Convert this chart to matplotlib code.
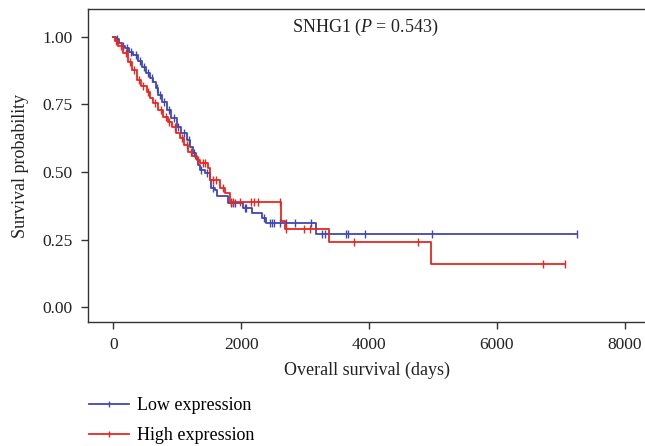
import numpy as np
import matplotlib
matplotlib.use("Agg")
import matplotlib.pyplot as plt
from matplotlib.lines import Line2D

plt.rcParams['font.family'] = ['Liberation Serif', 'DejaVu Serif']
plt.rcParams['mathtext.fontset'] = 'custom'
plt.rcParams['mathtext.rm'] = 'Liberation Serif'
plt.rcParams['mathtext.it'] = 'Liberation Serif:italic'

# --- survival steps ---
low_times = [0, 40, 90, 140, 183, 240, 313, 380, 443, 510, 573, 625, 665, 703, 760,
             834, 900, 990, 1060, 1147, 1200, 1250, 1290, 1328, 1355, 1433, 1511,
             1537, 1589, 1625, 1797, 2031, 2178, 2328, 2386, 3167, 7256]
low_surv = [1.0, 0.99, 0.975, 0.965, 0.957, 0.945, 0.932, 0.91, 0.889, 0.867, 0.846,
            0.834, 0.81, 0.785, 0.757, 0.729, 0.70, 0.667, 0.643, 0.618, 0.594, 0.569,
            0.548, 0.526, 0.507, 0.495, 0.47, 0.44, 0.433, 0.412, 0.384, 0.366, 0.347,
            0.329, 0.310, 0.271, 0.271]
low_censor = [60, 150, 220, 280, 350, 420, 480, 540, 600, 680, 730, 800, 870, 950,
              1020, 1100, 1180, 1270, 1380, 1460, 1560, 1850, 1875, 1900, 2058, 2084,
              2355, 2448, 2484, 2511, 2604, 2698, 2839, 3100, 3271, 3308, 3646, 3672,
              3944, 4990, 7256]

high_times = [0, 30, 80, 156, 234, 300, 366, 440, 522, 570, 625, 700, 781, 850, 912,
              980, 1042, 1110, 1172, 1240, 1303, 1355, 1484, 1511, 1677, 1755, 1825,
              2620, 2683, 3370, 4975, 7069]
high_surv = [1.0, 0.985, 0.965, 0.939, 0.908, 0.875, 0.84, 0.818, 0.797, 0.775, 0.754,
             0.73, 0.704, 0.685, 0.667, 0.645, 0.625, 0.60, 0.575, 0.558, 0.544, 0.532,
             0.514, 0.47, 0.44, 0.421, 0.388, 0.32, 0.288, 0.241, 0.159, 0.159]
high_censor = [50, 120, 200, 260, 330, 400, 470, 550, 650, 740, 820, 880, 960, 1070,
               1150, 1220, 1330, 1400, 1440, 1560, 1600, 1720, 1850, 1875, 1980, 2163,
               2198, 2266, 2604, 2698, 2980, 3073, 3761, 4766, 6730, 7069]

x_ticks = [0, 2000, 4000, 6000, 8000]
y_ticks = [0.0, 0.25, 0.5, 0.75, 1.0]

blue = '#4048b0'
red = '#e8271f'


def surv_at(times, surv, t):
    idx = np.searchsorted(times, t, side='right') - 1
    return np.asarray(surv)[idx]


fig = plt.figure(figsize=(6.45, 4.46), dpi=100)
ax = fig.add_axes([88 / 645, 1 - 322 / 446, 1 - 88 / 645, 313 / 446])

for times, surv, cens, col in [(low_times, low_surv, low_censor, blue),
                               (high_times, high_surv, high_censor, red)]:
    ax.step(times, surv, where='post', color=col, lw=1.3)
    ax.plot(cens, surv_at(times, surv, cens), ls='none', marker='|',
            ms=6, mew=1.0, color=col)

ax.set_xlim(-395, 8320)
ax.set_ylim(-0.054, 1.102)
ax.set_xticks(x_ticks)
ax.set_yticks(y_ticks)
ax.set_yticklabels([f'{v:.2f}' for v in y_ticks])
ax.spines['right'].set_visible(False)
for s in ['left', 'bottom', 'top']:
    ax.spines[s].set_color('#333333')
    ax.spines[s].set_linewidth(1.0)
ax.tick_params(direction='out', length=5, width=1.0, color='#333333',
               labelsize=12.5, labelcolor='#222222', pad=6)

ax.set_xlabel('Overall survival (days)', fontsize=13, color='#222222', labelpad=6)
ax.set_ylabel('Survival probability', fontsize=13, color='#222222', labelpad=10)
ax.text(0.497, 0.942, 'SNHG1 ($P$ = 0.543)', transform=ax.transAxes,
        ha='center', va='center', fontsize=13, color='#222222')

handles = [Line2D([], [], color=blue, lw=1.3, marker='|', ms=5),
           Line2D([], [], color=red, lw=1.3, marker='|', ms=5)]
fig.legend(handles, ['Low expression', 'High expression'], loc='upper left',
           bbox_to_anchor=(84 / 645, 1 - 392 / 446), frameon=False,
           fontsize=13, handlelength=2.2, handletextpad=0.45, labelspacing=0.72,
           borderaxespad=0, borderpad=0.3)

fig.savefig('out.png', dpi=100)
